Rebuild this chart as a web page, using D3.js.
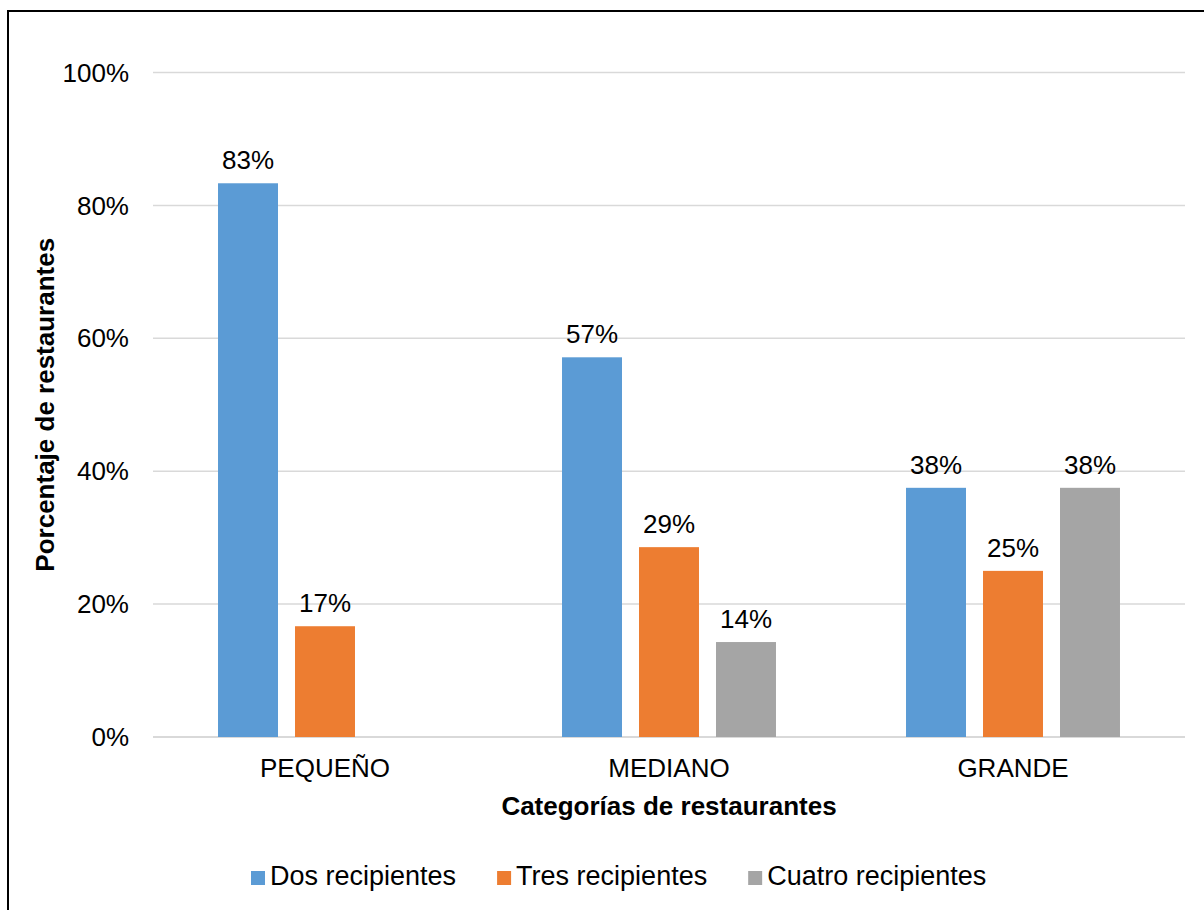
<!DOCTYPE html>
<html><head><meta charset="utf-8">
<script src="https://cdn.jsdelivr.net/npm/d3@7"></script>
<style>body{margin:0;background:#fff}svg{display:block}text{font-family:"Liberation Sans",Arial,sans-serif}</style>
</head><body><svg id="c" width="1204" height="910"></svg>
<script>
const categories = ["PEQUEÑO", "MEDIANO", "GRANDE"];
const seriesNames = ["Dos recipientes", "Tres recipientes", "Cuatro recipientes"];
const dosValues = [0.8333, 0.5714, 0.375];
const tresValues = [0.1667, 0.2857, 0.25];
const cuatroValues = [null, 0.1429, 0.375];
const yTicks = [0, 0.2, 0.4, 0.6, 0.8, 1.0];
const colors = ["#5B9BD5", "#ED7D31", "#A5A5A5"];

(function () {
const series = [dosValues, tresValues, cuatroValues];
const svg = d3.select("#c");
const fs = 26;
const pLeft = 153, pRight = 1185, pTop = 72.5, pBottom = 737;

svg.append("rect").attr("x", 8).attr("y", 11).attr("width", 1400).attr("height", 1100)
  .attr("fill", "none").attr("stroke", "#000").attr("stroke-width", 2);

const y = d3.scaleLinear().domain([0, 1]).range([pBottom, pTop]);
const x0 = d3.scaleBand().domain(categories).range([pLeft, pRight]).paddingInner(0.378).paddingOuter(0.189);
const x1 = d3.scaleBand().domain(seriesNames).range([0, x0.bandwidth()]).paddingInner(0.221).paddingOuter(0);

svg.append("g").selectAll("line").data(yTicks).join("line")
  .attr("x1", pLeft).attr("x2", pRight)
  .attr("y1", d => y(d)).attr("y2", d => y(d))
  .attr("stroke", "#D9D9D9").attr("stroke-width", d => d === 0 ? 2 : 1.5);

svg.append("g").selectAll("text").data(yTicks).join("text")
  .attr("x", 129).attr("y", d => y(d)).attr("dy", "0.35em")
  .attr("text-anchor", "end").attr("font-size", fs).attr("fill", "#000")
  .text(d => d3.format(".0%")(d));

const data = [];
categories.forEach((c, i) => series.forEach((s, j) => {
  if (s[i] != null) data.push({cat: c, name: seriesNames[j], v: s[i], j});
}));
svg.append("g").selectAll("rect").data(data).join("rect")
  .attr("x", d => x0(d.cat) + x1(d.name)).attr("width", x1.bandwidth())
  .attr("y", d => y(d.v)).attr("height", d => pBottom - y(d.v))
  .attr("fill", d => colors[d.j]);

svg.append("g").selectAll("text").data(data).join("text")
  .attr("x", d => x0(d.cat) + x1(d.name) + x1.bandwidth() / 2)
  .attr("y", d => y(d.v) - 14)
  .attr("text-anchor", "middle").attr("font-size", fs).attr("fill", "#000")
  .text(d => d3.format(".0%")(d.v));

svg.append("g").selectAll("text").data(categories).join("text")
  .attr("x", d => x0(d) + x0.bandwidth() / 2).attr("y", 777)
  .attr("text-anchor", "middle").attr("font-size", fs).attr("fill", "#000")
  .text(d => d);

svg.append("text").attr("x", (pLeft + pRight) / 2).attr("y", 815)
  .attr("text-anchor", "middle").attr("font-size", fs).attr("font-weight", "bold")
  .text("Categorías de restaurantes");
svg.append("text").attr("transform", `translate(54,${(pTop + pBottom) / 2}) rotate(-90)`)
  .attr("text-anchor", "middle").attr("font-size", fs).attr("font-weight", "bold")
  .text("Porcentaje de restaurantes");

const lg = svg.append("g");
let lx = 251;
seriesNames.forEach((n, j) => {
  lg.append("rect").attr("x", lx).attr("y", 871).attr("width", 14).attr("height", 14).attr("fill", colors[j]);
  const t = lg.append("text").attr("x", lx + 19).attr("y", 885).attr("font-size", 27).attr("fill", "#000").text(n);
  lx += 19 + t.node().getComputedTextLength() + 41;
});
})();
</script></body></html>
